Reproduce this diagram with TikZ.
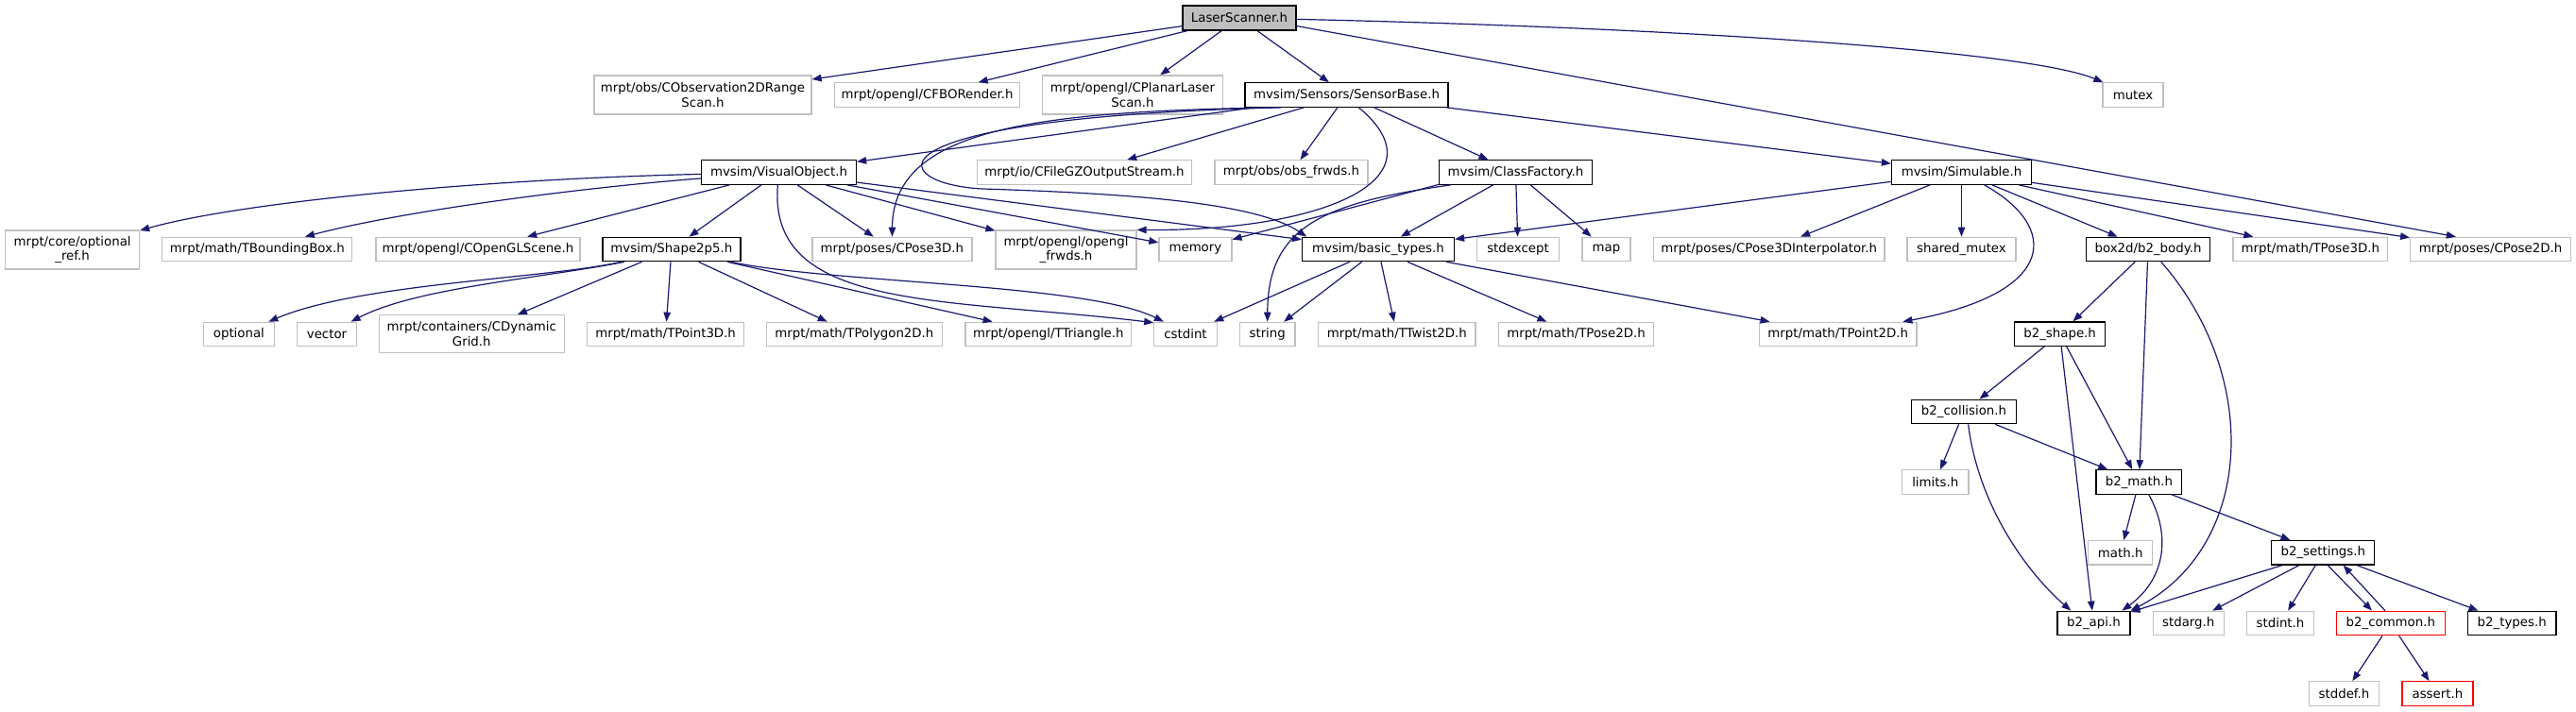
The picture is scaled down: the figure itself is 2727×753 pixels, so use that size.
\documentclass[tikz,border=0pt]{standalone}
\usepackage{fontspec}
\setmainfont{DejaVu Sans}
\usetikzlibrary{arrows.meta}
\definecolor{edgeblue}{RGB}{25,25,112}
\definecolor{grey75}{RGB}{191,191,191}

\begin{document}
\begin{tikzpicture}[x=1pt,y=-1pt,
  hdr/.style={draw=black,line width=1.2pt,fill=white,inner sep=0pt,
    minimum height=25.5pt,align=center,font=\fontsize{13.33}{15.5}\selectfont},
  ext/.style={hdr,draw=grey75},
  trunc/.style={hdr,draw=red},
  dep/.style={edgeblue,line width=1.2pt,-{Triangle[length=10pt,width=7.5pt]}}]
  \fill[white] (0,0) rectangle (2727,753);
  \useasboundingbox (0,0) rectangle (2727,753);
  % row 0
  \node[hdr,fill=grey75,minimum width=120pt,minimum height=26pt] (laser) at (1312,19) {LaserScanner.h};
  % row 1
  \node[ext,minimum width=230pt,minimum height=41pt] (obsrange) at (744,100.5) {mrpt/obs/CObservation2DRange\\Scan.h};
  \node[ext,minimum width=196pt] (cfbo) at (981.5,100.5) {mrpt/opengl/CFBORender.h};
  \node[ext,minimum width=191pt,minimum height=41pt] (planar) at (1199,100.5) {mrpt/opengl/CPlanarLaser\\Scan.h};
  \node[hdr,minimum width=215pt] (sensor) at (1425.5,100.5) {mvsim/Sensors/SensorBase.h};
  \node[ext,minimum width=64pt] (mutex) at (2258,100.5) {mutex};
  % row 2
  \node[hdr,minimum width=164pt] (visual) at (824.5,182.5) {mvsim/VisualObject.h};
  \node[ext,minimum width=227pt] (gzstream) at (1148,182.5) {mrpt/io/CFileGZOutputStream.h};
  \node[ext,minimum width=162pt] (obsfrwds) at (1367,182.5) {mrpt/obs/obs\_frwds.h};
  \node[hdr,minimum width=162pt] (factory) at (1604.5,182.5) {mvsim/ClassFactory.h};
  \node[hdr,minimum width=148pt] (simulable) at (2076.5,182.5) {mvsim/Simulable.h};
  % row 3
  \node[ext,minimum width=142pt,minimum height=41pt] (optref) at (76.6,264.5) {mrpt/core/optional\\\_ref.h};
  \node[ext,minimum width=201pt] (bbox) at (272.3,264) {mrpt/math/TBoundingBox.h};
  \node[ext,minimum width=216pt] (glscene) at (506,264) {mrpt/opengl/COpenGLScene.h};
  \node[hdr,minimum width=146pt] (shape) at (710.9,264) {mvsim/Shape2p5.h};
  \node[ext,minimum width=169pt] (pose3d) at (944.4,264) {mrpt/poses/CPose3D.h};
  \node[ext,minimum width=149pt,minimum height=41pt] (glfrwds) at (1128.5,264.5) {mrpt/opengl/opengl\\\_frwds.h};
  \node[ext,minimum width=77pt] (memory) at (1265.4,264) {memory};
  \node[hdr,minimum width=161pt] (basic) at (1459,264) {mvsim/basic\_types.h};
  \node[ext,minimum width=86.6pt] (stdexcept) at (1607,264) {stdexcept};
  \node[ext,minimum width=51pt] (map) at (1700.5,264) {map};
  \node[ext,minimum width=244.6pt] (interp) at (1872.7,264) {mrpt/poses/CPose3DInterpolator.h};
  \node[ext,minimum width=115pt] (shmutex) at (2076.5,264) {shared\_mutex};
  \node[hdr,minimum width=131pt] (body) at (2274,264) {box2d/b2\_body.h};
  \node[ext,minimum width=163.6pt] (tpose3d) at (2445.8,264) {mrpt/math/TPose3D.h};
  \node[ext,minimum width=169.7pt] (pose2d) at (2636.5,264) {mrpt/poses/CPose2D.h};
  % row 4
  \node[ext,minimum width=74.6pt] (optional) at (252.9,354) {optional};
  \node[ext,minimum width=62.5pt] (vector) at (346,354) {vector};
  \node[ext,minimum width=196pt,minimum height=40pt] (dyngrid) at (499.3,353.7) {mrpt/containers/CDynamic\\Grid.h};
  \node[ext,minimum width=166.5pt] (tpoint3d) at (704.6,354) {mrpt/math/TPoint3D.h};
  \node[ext,minimum width=185.7pt] (polygon) at (904.4,354) {mrpt/math/TPolygon2D.h};
  \node[ext,minimum width=175.8pt] (triangle) at (1109.8,354) {mrpt/opengl/TTriangle.h};
  \node[ext,minimum width=66.5pt] (cstdint) at (1255,354) {cstdint};
  \node[ext,minimum width=58.5pt] (string) at (1341.7,354) {string};
  \node[ext,minimum width=166.5pt] (twist) at (1478.8,354) {mrpt/math/TTwist2D.h};
  \node[ext,minimum width=163.8pt] (tpose2d) at (1668.5,354) {mrpt/math/TPose2D.h};
  \node[ext,minimum width=166.5pt] (tpoint2d) at (1945.7,354) {mrpt/math/TPoint2D.h};
  \node[hdr,minimum width=96pt] (bshape) at (2180.6,353.7) {b2\_shape.h};
  % box2d chain
  \node[hdr,minimum width=110.8pt] (collision) at (2079,436) {b2\_collision.h};
  \node[ext,minimum width=70.7pt] (limits) at (2048.7,510.5) {limits.h};
  \node[hdr,minimum width=90.8pt] (bmath) at (2264.4,510.5) {b2\_math.h};
  \node[ext,minimum width=68pt] (mathh) at (2244.7,585.3) {math.h};
  \node[hdr,minimum width=109pt] (settings) at (2459.3,585.3) {b2\_settings.h};
  \node[hdr,minimum width=77pt] (api) at (2216.4,660) {b2\_api.h};
  \node[ext,minimum width=75pt] (stdarg) at (2316.7,660) {stdarg.h};
  \node[ext,minimum width=71pt] (stdint) at (2414,660) {stdint.h};
  \node[trunc,minimum width=115pt] (common) at (2530.8,660) {b2\_common.h};
  \node[hdr,minimum width=93.4pt] (types) at (2659.2,660) {b2\_types.h};
  \node[ext,minimum width=74.4pt] (stddef) at (2481.5,734.5) {stddef.h};
  \node[trunc,minimum width=75pt] (assert) at (2580.4,734.5) {assert.h};
  % straight includes
  \foreach \a/\b in {laser/obsrange,laser/cfbo,laser/planar,laser/sensor,laser.-8/pose2d.160,
      sensor/visual,sensor/gzstream,sensor/obsfrwds,sensor/factory,sensor/simulable,
      factory.189/memory,factory/basic,factory/stdexcept,factory/map,
      simulable/basic,simulable/interp,simulable/shmutex,simulable/body,simulable/tpose3d,simulable/pose2d,
      visual/glscene,visual/shape,visual/pose3d,visual/glfrwds,visual/memory,visual/basic,
      shape/dyngrid,shape/tpoint3d,shape/polygon,shape/triangle,
      basic/cstdint,basic/string,basic/twist,basic/tpose2d,basic/tpoint2d,
      body/bshape,body/bmath,bshape/collision,bshape/api,bshape/bmath,
      collision/limits,collision/bmath,bmath/mathh,bmath/settings,
      settings/api,settings/stdarg,settings/stdint,settings/types,
      settings.-70/common.146,common.114/settings.-32,common/stddef,common/assert}
    \draw[dep] (\a) -- (\b);
  % curved includes
  \draw[dep] (laser) .. controls (1800,30) and (2150,55) .. (mutex);
  \draw[dep] (sensor.190) .. controls (1100,118) and (945,135) .. (pose3d);
  \draw[dep] (sensor.191) .. controls (900,125) and (940,195) .. (1040,200)
    .. controls (1200,205) and (1330,215) .. (basic.170);
  \draw[dep] (sensor.-46) .. controls (1530,190) and (1400,245) .. (glfrwds.north east);
  \draw[dep] (factory.191) .. controls (1400,215) and (1342,240) .. (string);
  \draw[dep] (simulable.-29) .. controls (2180,240) and (2180,310) .. (tpoint2d.11);
  \draw[dep] (visual) .. controls (500,190) and (250,215) .. (optref);
  \draw[dep] (visual) .. controls (600,200) and (420,225) .. (bbox);
  \draw[dep] (visual) .. controls (812,330) and (1000,315) .. (cstdint.160);
  \draw[dep] (shape) .. controls (880,300) and (1150,300) .. (cstdint.150);
  \draw[dep] (shape.194) .. controls (580,295) and (380,300) .. (optional);
  \draw[dep] (shape.195) .. controls (570,295) and (440,305) .. (vector);
  \draw[dep] (body.-44) .. controls (2395,400) and (2385,580) .. (api.north east);
  \draw[dep] (collision.-71) .. controls (2095,540) and (2150,610) .. (api.151);
  \draw[dep] (bmath.-52) .. controls (2300,570) and (2290,615) .. (api.24);
\end{tikzpicture}
\end{document}
